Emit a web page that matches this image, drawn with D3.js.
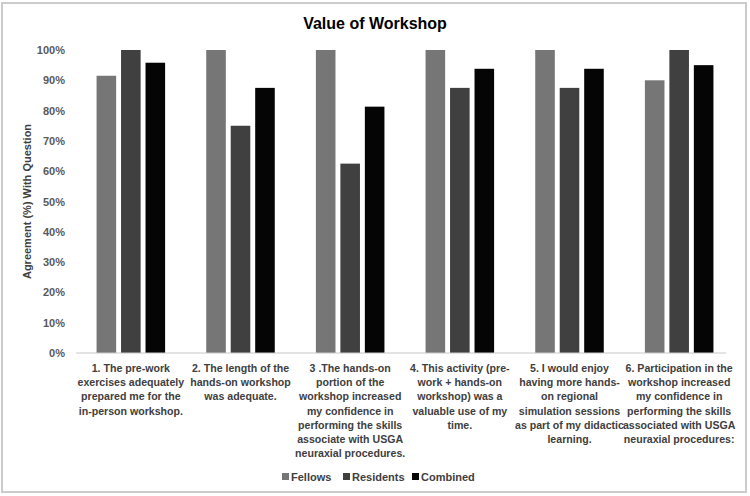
<!DOCTYPE html>
<html>
<head>
<meta charset="utf-8">
<script src="https://cdn.jsdelivr.net/npm/d3@7"></script>
<style>
  body { margin: 0; background: #fff; }
  svg { display: block; }
</style>
</head>
<body>
<svg id="chart" width="750" height="496"></svg>
<script>
const fontFamily = "'Liberation Sans', Arial, sans-serif";

// Question labels (one entry per line)
const questions = [
  ["1. The pre-work", "exercises adequately", "prepared me for the", "in-person workshop."],
  ["2. The length of the", "hands-on workshop", "was adequate."],
  ["3 .The hands-on", "portion of the", "workshop increased", "my confidence in", "performing the skills", "associate with USGA", "neuraxial procedures."],
  ["4. This activity (pre-", "work + hands-on", "workshop) was a", "valuable use of my", "time."],
  ["5. I would enjoy", "having more hands-", "on regional", "simulation sessions", "as part of my didactic", "learning."],
  ["6. Participation in the", "workshop increased", "my confidence in", "performing the skills", "associated with USGA", "neuraxial procedures:"]
];
const seriesNames = ["Fellows", "Residents", "Combined"];
const fellows = [91.5, 100, 100, 100, 100, 90];
const residents = [100, 75, 62.5, 87.5, 87.5, 100];
const combined = [95.8, 87.5, 81.3, 93.8, 93.8, 95];
const yTicks = [0, 10, 20, 30, 40, 50, 60, 70, 80, 90, 100];
const colors = ["#767676", "#404040", "#050505"];

const values = [fellows, residents, combined];
const rows = questions.map((q, i) => ({
  idx: i,
  vals: seriesNames.map((s, j) => ({ key: s, value: values[j][i] }))
}));

const width = 750, height = 496;
const margin = { top: 50, right: 16, bottom: 143, left: 76 };
const svg = d3.select("#chart");

// outer border
svg.append("rect")
  .attr("x", 2).attr("y", 3)
  .attr("width", 744).attr("height", 489)
  .attr("fill", "#fff")
  .attr("stroke", "#cbcbcb")
  .attr("stroke-width", 2);

const x0 = d3.scaleBand()
  .domain(d3.range(questions.length))
  .range([margin.left, width - margin.right])
  .padding(0);

const x1 = d3.scaleBand()
  .domain(seriesNames)
  .range([0, x0.bandwidth()])
  .paddingInner(0.2)
  .paddingOuter(0.84);

const y = d3.scaleLinear()
  .domain([0, 100])
  .range([height - margin.bottom, margin.top]);

// title
svg.append("text")
  .attr("x", 375)
  .attr("y", 29)
  .attr("text-anchor", "middle")
  .attr("font-family", fontFamily)
  .attr("font-size", "16px")
  .attr("font-weight", "700")
  .attr("fill", "#000")
  .text("Value of Workshop");

// y axis labels
const yAxis = d3.axisLeft(y)
  .tickValues(yTicks)
  .tickFormat(d => d + "%")
  .tickSize(0)
  .tickPadding(11);

const yg = svg.append("g")
  .attr("transform", `translate(${margin.left},0)`)
  .call(yAxis);
yg.select(".domain").remove();
yg.selectAll("text")
  .attr("font-family", fontFamily)
  .attr("font-size", "11px")
  .attr("font-weight", "700")
  .attr("fill", "#595959");

// y axis title
svg.append("text")
  .attr("transform", `translate(31, ${(margin.top + height - margin.bottom) / 2}) rotate(-90)`)
  .attr("text-anchor", "middle")
  .attr("font-family", fontFamily)
  .attr("font-size", "11px")
  .attr("font-weight", "700")
  .attr("fill", "#404040")
  .text("Agreement (%) With Question");

// bars
const groups = svg.selectAll("g.group")
  .data(rows)
  .enter()
  .append("g")
  .attr("class", "group")
  .attr("transform", d => `translate(${x0(d.idx)},0)`);

groups.selectAll("rect")
  .data(d => d.vals)
  .enter()
  .append("rect")
  .attr("x", d => x1(d.key))
  .attr("y", d => y(d.value))
  .attr("width", x1.bandwidth())
  .attr("height", d => y(0) - y(d.value))
  .attr("fill", (d, i) => colors[i]);

// baseline
svg.append("line")
  .attr("x1", margin.left).attr("x2", width - margin.right - 8)
  .attr("y1", y(0)).attr("y2", y(0))
  .attr("stroke", "#c8c8c8")
  .attr("stroke-width", 1);

// category labels
const labels = svg.selectAll("text.cat")
  .data(questions)
  .enter()
  .append("text")
  .attr("class", "cat")
  .attr("text-anchor", "middle")
  .attr("font-family", fontFamily)
  .attr("font-size", "10.6px")
  .attr("font-weight", "700")
  .attr("fill", "#404040");

labels.selectAll("tspan")
  .data((d, i) => d.map(line => ({ line, i })))
  .enter()
  .append("tspan")
  .attr("x", d => x0(d.i) + x0.bandwidth() / 2)
  .attr("y", (d, k) => y(0) + 19 + k * 14.2)
  .text(d => d.line);

// legend
const legendX = [282, 343, 412];
const legend = svg.selectAll("g.legend")
  .data(seriesNames)
  .enter()
  .append("g")
  .attr("class", "legend")
  .attr("transform", (d, i) => `translate(${legendX[i]}, 477)`);

legend.append("rect")
  .attr("x", 0).attr("y", -4)
  .attr("width", 7).attr("height", 7)
  .attr("fill", (d, i) => colors[i]);

legend.append("text")
  .attr("x", 9)
  .attr("y", 4)
  .attr("font-family", fontFamily)
  .attr("font-size", "11px")
  .attr("font-weight", "700")
  .attr("fill", "#404040")
  .text(d => d);
</script>
</body>
</html>
